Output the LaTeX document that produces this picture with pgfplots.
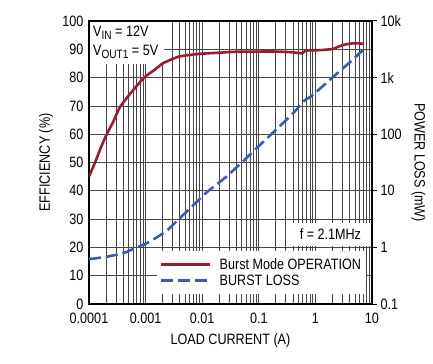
\documentclass[border=0pt]{standalone}
\usepackage{fontspec}
\setmainfont{Liberation Sans}[FakeStretch=0.84]
\usepackage{pgfplots}
\pgfplotsset{compat=1.18}
\definecolor{effred}{RGB}{160,25,50}
\definecolor{lossblue}{RGB}{55,90,190}
\begin{document}
\begin{tikzpicture}[font=\fontsize{15bp}{18bp}\selectfont]
\path[use as bounding box] (-89bp,-60bp) rectangle (344bp,304bp);
% ---------- axis A: grid, frame, left/bottom labels, boxes ----------
\begin{axis}[
  scale only axis, width=283bp, height=283bp,
  xmode=log, xmin=1e-4, xmax=10, ymin=0, ymax=100,
  xtick={1e-4,1e-3,1e-2,1e-1,1,10},
  xticklabels={0.0001,0.001,0.01,0.1,1,10},
  minor xtick={2e-4,3e-4,4e-4,5e-4,6e-4,7e-4,8e-4,9e-4,
               2e-3,3e-3,4e-3,5e-3,6e-3,7e-3,8e-3,9e-3,
               2e-2,3e-2,4e-2,5e-2,6e-2,7e-2,8e-2,9e-2,
               0.2,0.3,0.4,0.5,0.6,0.7,0.8,0.9,
               2,3,4,5,6,7,8,9},
  ytick={0,10,20,30,40,50,60,70,80,90,100},
  yticklabels={0,10,20,30,40,50,60,70,80,90,100},
  grid=both,
  major grid style={black!72, line width=0.7bp},
  minor grid style={black!72, line width=0.7bp},
  major tick length=0pt, minor tick length=0pt,
  axis line style={black, line width=1.3bp},
  xticklabel style={yshift=-6bp},
  yticklabel style={xshift=-2bp},
  xlabel={LOAD CURRENT (A)},
  ylabel={EFFICIENCY (\%)},
  xlabel style={at={(axis description cs:0.5,-0.13)}, anchor=center},
  ylabel style={at={(axis description cs:-0.152,0.5)}, anchor=center},
]
\node[fill=white, anchor=north west, inner sep=0pt, minimum width=74bp, minimum height=42bp,
      xshift=0.7bp, yshift=-0.7bp] at (axis description cs:0,1) {};
\node[anchor=north west, align=left, inner sep=0pt, xshift=4bp, yshift=-5bp] at (axis description cs:0,1)
  {V\raisebox{-0.3ex}{\fontsize{12bp}{12bp}\selectfont IN} = 12V\\[1bp]
   V\raisebox{-0.3ex}{\fontsize{12bp}{12bp}\selectfont OUT1} = 5V};
\node[fill=white, inner sep=0pt, minimum width=81bp, minimum height=23bp]
  at (axis description cs:0.853,0.2456) {f = 2.1MHz};
\end{axis}
% ---------- axis B: efficiency ----------
\begin{axis}[
  scale only axis, width=283bp, height=283bp,
  xmode=log, xmin=1e-4, xmax=10, ymin=0, ymax=100,
  hide axis,
]
\addplot[effred, line width=2.6bp, smooth, tension=0.3] coordinates {
 (1e-4,45) (1.28e-4,50) (1.6e-4,55) (2e-4,59.5) (2.7e-4,64.5) (3.5e-4,69.5)
 (5.7e-4,75) (9.4e-4,80)
 (1.5e-3,83) (2e-3,85) (3e-3,86.6) (4e-3,87.5) (6e-3,88) (9e-3,88.4)
 (2e-2,88.8) (3.5e-2,89.1) (0.1,89.2) (0.2,89.2) (0.35,89) (0.5,88.7)
 (0.58,88.6) (0.65,89.3) (0.75,89.6) (1.2,89.7) (2,90.1) (2.6,91)
 (3.2,91.6) (4.5,92.1) (6,92.1) (7,91.9)
};
\end{axis}
% ---------- axis C: power loss (right, log) ----------
\begin{axis}[
  scale only axis, width=283bp, height=283bp,
  xmode=log, xmin=1e-4, xmax=10,
  ymode=log, ymin=0.1, ymax=10000,
  axis x line=none,
  axis y line*=right,
  y axis line style={-, black, line width=1.3bp},
  ytick={0.1,1,10,100,1000,10000},
  yticklabels={0.1,1,10,100,1k,10k},
  yminorticks=false,
  tick align=outside, major tick length=5bp,
  tick style={black, line width=1bp},
  ylabel={POWER LOSS (mW)},
  ylabel style={at={(axis description cs:1.164,0.5)}, anchor=center, rotate=180},
  legend style={at={(axis description cs:0.240,0.19)}, anchor=north west,
     draw=none, fill=white, inner xsep=3bp, inner ysep=5bp, row sep=0bp,
     nodes={inner sep=2bp}, yshift=-1bp,
     /tikz/every odd column/.append style={column sep=6bp}},
  legend cell align=left,
  legend image code/.code={\draw[#1] (0bp,0bp) -- (49bp,0bp);},
]
\addlegendimage{effred, line width=2.6bp}
\addlegendentry{Burst Mode OPERATION}
\addplot[lossblue, line width=2.6bp, dash pattern=on 12bp off 5bp, smooth, tension=0.3] coordinates {
 (1e-4,0.62) (2e-4,0.68) (4e-4,0.79) (7e-4,1.0) (1e-3,1.16) (1.5e-3,1.46)
 (2.4e-3,2.0) (4.1e-3,3.35) (7e-3,5.6) (1.2e-2,9.4) (2.5e-2,16.8) (5e-2,31.6)
 (0.105,64.6) (0.2,119) (0.4,232) (0.65,398) (0.86,473) (2.07,1035)
 (4,1840) (7,3090)
};
\addlegendentry{BURST LOSS}
\node[font=\fontsize{8bp}{9bp}\selectfont] at (axis description cs:0.947,-0.170) {7815 TA01b};
\end{axis}
\end{tikzpicture}
\end{document}
